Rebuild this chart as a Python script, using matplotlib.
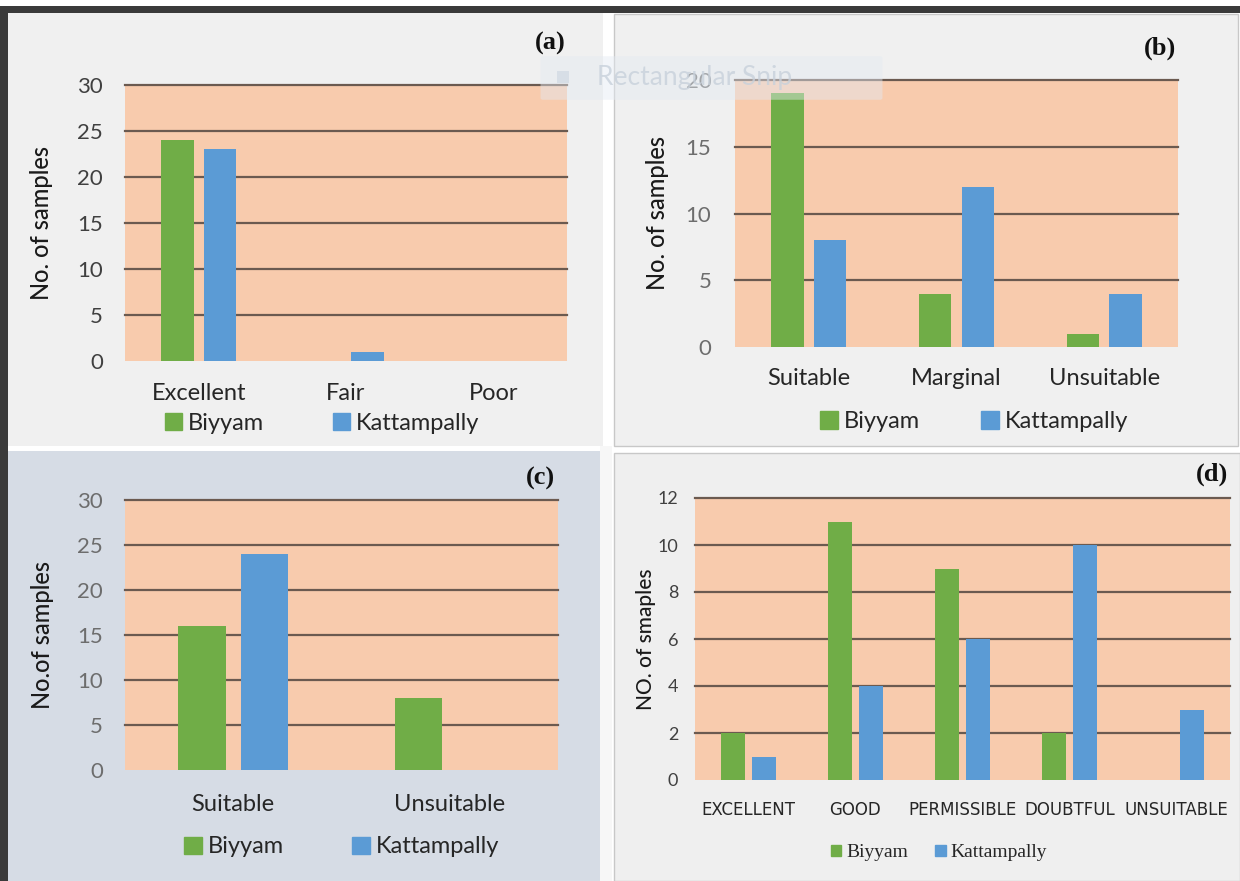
import matplotlib
matplotlib.use("Agg")
import matplotlib.pyplot as plt
from matplotlib.patches import Rectangle, Patch, FancyBboxPatch

# data
cats_a = ["Excellent", "Fair", "Poor"]
biyyam_a = [24, 0, 0]
katt_a = [23, 1, 0]

cats_b = ["Suitable", "Marginal", "Unsuitable"]
biyyam_b = [19, 4, 1]
katt_b = [8, 12, 4]

cats_c = ["Suitable", "Unsuitable"]
biyyam_c = [16, 8]
katt_c = [24, 0]

cats_d = ["EXCELLENT", "GOOD", "PERMISSIBLE", "DOUBTFUL", "UNSUITABLE"]
biyyam_d = [2, 11, 9, 2, 0]
katt_d = [1, 4, 6, 10, 3]

GREEN = "#70ad47"
BLUE = "#5b9bd5"
PEACH = "#f8cbad"
GRID = "#6b5a50"
W, H = 1240, 881

fig = plt.figure(figsize=(12.4, 8.81), dpi=100)
fig.patch.set_facecolor("white")


def box(x0, y0, x1, y1, color, ec="none", lw=0):
    # pixel rectangle (top-left origin) drawn behind everything
    fig.patches.append(Rectangle((x0 / W, 1 - y1 / H), (x1 - x0) / W, (y1 - y0) / H,
                                 transform=fig.transFigure, facecolor=color,
                                 edgecolor=ec, linewidth=lw, zorder=-5))


def make_ax(x0, y0, x1, y1):
    return fig.add_axes([x0 / W, 1 - y1 / H, (x1 - x0) / W, (y1 - y0) / H])


# panel backgrounds
box(8, 13, 603, 446, "#f0f0f0")
box(614, 14, 1238, 446, "#f0f0f0", ec="#c8c8c8", lw=1)
box(8, 451, 600, 881, "#d6dce5")
box(614, 453, 1240, 881, "#efefef", ec="#c8c8c8", lw=1)
# dark screen border
box(0, 6, 1240, 13, "#3a3a3a")
box(0, 6, 8, 446, "#3a3a3a")
box(0, 446, 8, 881, "#3a3a3a")
box(600, 446, 612, 881, "#f7f7f7")


def draw(ax, cats, b, k, ymax, step, tick_fs, tick_color, label, label_x, ylabel_fs,
         cat_font, cat_fs, cat_pad, tick_pad, leg_x, leg_y, leg_font, leg_fs, leg_hl, leg_cs):
    n = len(cats)
    x = list(range(n))
    off = 0.145
    ax.bar([i - off for i in x], b, width=0.22, color=GREEN, zorder=3)
    ax.bar([i + off for i in x], k, width=0.22, color=BLUE, zorder=3)
    ax.set_facecolor(PEACH)
    ax.set_xlim(-0.5, n - 0.5)
    ax.set_ylim(0, ymax)
    ticks = list(range(0, ymax + 1, step))
    ax.set_yticks(ticks)
    for t in ticks[1:]:
        ax.axhline(t, color=GRID, lw=1.6, zorder=2, clip_on=False)
    for s in ax.spines.values():
        s.set_visible(False)
    ax.set_xticks(x)
    ax.set_xticklabels(cats, fontsize=cat_fs, family=cat_font, color="#262626")
    ax.tick_params(axis="x", length=0, pad=cat_pad)
    ax.tick_params(axis="y", length=0, pad=tick_pad, labelsize=tick_fs, labelcolor=tick_color)
    for t in ax.get_yticklabels():
        t.set_family("Lato")
    ax.set_ylabel(label, fontsize=ylabel_fs, family="Lato", color="#1a1a1a", fontweight="medium")
    ax.yaxis.set_label_coords(label_x, 0.5)
    handles = [Patch(color=GREEN, label="Biyyam"), Patch(color=BLUE, label="Kattampally")]
    ax.legend(handles=handles, loc="center", bbox_to_anchor=(leg_x, leg_y), ncol=2,
              frameon=False, handlelength=leg_hl, handleheight=leg_hl, handletextpad=0.25,
              columnspacing=leg_cs, labelcolor="#262626",
              prop={"family": leg_font, "size": leg_fs})


ax_a = make_ax(125, 85, 567, 361)
draw(ax_a, cats_a, biyyam_a, katt_a, 30, 5, 16, "#404040", "No. of samples", -0.163, 17,
     "Lato", 17, 16, 16, 0.446, -0.225, "Lato", 17, 0.75, 2.9)

ax_b = make_ax(735, 80, 1178, 347)
draw(ax_b, cats_b, biyyam_b, katt_b, 20, 5, 16, "#6d6d6d", "No. of samples", -0.15, 17,
     "Lato", 17, 15, 17, 0.54, -0.28, "Lato", 17, 0.75, 2.6)

ax_c = make_ax(125, 500, 558, 770)
draw(ax_c, cats_c, biyyam_c, katt_c, 30, 5, 16, "#6d6d6d", "No.of samples", -0.165, 17,
     "Lato", 17, 17, 16, 0.50, -0.285, "Lato", 17, 0.75, 2.9)

ax_d = make_ax(695, 498, 1230, 780)
draw(ax_d, cats_d, biyyam_d, katt_d, 12, 2, 13, "#404040", "NO. of smaples", -0.072, 15,
     "Liberation Sans Narrow", 12, 15, 12, 0.456, -0.258, "Liberation Serif", 14, 0.55, 1.4)

# panel tags
for txt, px, py in [("(a)", 550, 43), ("(b)", 1160, 48), ("(c)", 540, 478), ("(d)", 1212, 474)]:
    fig.text(px / W, 1 - py / H, txt, family="Liberation Serif", fontweight="bold",
             fontsize=19, ha="center", va="center", color="#111111")

# faint snipping-tool overlay
fig.patches.append(FancyBboxPatch((543 / W, 1 - 98 / H), 337 / W, 40 / H,
                                  boxstyle="round,pad=0.002", transform=fig.transFigure,
                                  facecolor="#e3eaf2", edgecolor="none", alpha=0.45, zorder=5))
fig.patches.append(Rectangle((557 / W, 1 - 83 / H), 12 / W, 12 / H, transform=fig.transFigure,
                             facecolor="#d3dbe4", edgecolor="none", alpha=0.8, zorder=6))
fig.text(597 / W, 1 - 77 / H, "Rectangular Snip", family="Lato", fontsize=19,
         color="#c8d1db", alpha=0.8, va="center", zorder=6)

fig.savefig("out.png", dpi=100)
